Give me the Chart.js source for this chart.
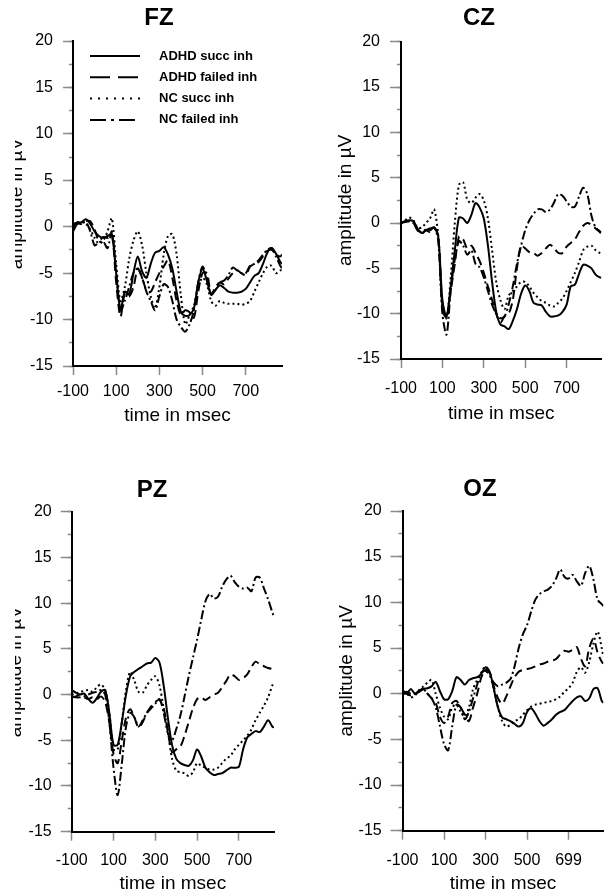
<!DOCTYPE html>
<html>
<head>
<meta charset="utf-8">
<script src="https://cdn.jsdelivr.net/npm/chart.js@4.4.1/dist/chart.umd.min.js"></script>
<style>
html,body{margin:0;padding:0;background:#fff;width:605px;height:893px;overflow:hidden;position:relative;}
.clipL{position:absolute;left:15px;top:0;width:290px;height:893px;overflow:hidden;}
canvas{position:absolute;}
</style>
</head>
<body>
<div class="clipL" id="clipL"></div>
<script>
// ---------- DATA ----------
const seriesNames = ['ADHD succ inh', 'ADHD failed inh', 'NC succ inh', 'NC failed inh'];
const times = [-100,-80,-60,-40,-20,0,20,40,60,80,
  100,120,140,160,180,200,220,240,260,280,
  300,320,340,360,380,400,420,440,460,480,
  500,520,540,560,580,600,620,640,660,680,
  700,720,740,760,780,800,820,840,860,868];
const xTickValues = [-100, 100, 300, 500, 700];
const xTickLabels = ['-100', '100', '300', '500', '700'];
const xTickLabelsOZ = ['-100', '100', '300', '500', '699'];
const yMin = -15, yMax = 20, yStep = 5, yMinorStep = 2.5;

const fzAdhdSucc = [-0.5,0.3,0.5,0.8,0.3,-0.5,-1.0,-1.2,-1.0,-0.8,
  -5,-9.0,-7.0,-7.3,-5,-3.2,-4.8,-5.5,-4,-2.8,
  -2.6,-2.2,-3,-4.5,-7,-9.2,-9.6,-9.5,-8.8,-6,
  -4.5,-5.8,-7.3,-6.8,-6.3,-6.6,-7,-7.1,-7.1,-7,
  -6.7,-6,-5.3,-5,-4,-2.8,-2.3,-2.9,-3.8,-4];
const fzAdhdFail = [0.3,0.4,0.3,0.6,0.6,-0.3,-1.5,-1.1,-1.2,-0.8,
  -6,-9.7,-7.2,-7.5,-6.5,-4.5,-5.5,-6.8,-7,-6,
  -5,-4.3,-3.6,-5.5,-8,-9.5,-9,-9.2,-9.8,-7,
  -5,-5,-7.3,-6.5,-6,-6.2,-5.6,-5,-4.7,-5,
  -5.2,-4.3,-4,-3.8,-3.2,-2.6,-2.5,-3,-3.2,-3];
const fzNcSucc = [0,0.3,0.5,0.3,-0.3,-1.2,-1.8,-1.5,-0.5,0.9,
  -4,-8,-6.5,-3.5,-1.5,-0.5,-2,-5,-7.5,-8.8,
  -6.5,-3,-1,-0.8,-3,-7.5,-10.5,-9.5,-8.5,-6.5,
  -5.5,-6.2,-8,-8.5,-8,-8.2,-8.3,-8.3,-8.3,-8.4,
  -8.3,-8,-7,-6,-5,-4.3,-4.2,-5,-4.7,-4.7];
const fzNcFail = [0,0.5,0.4,0.5,-0.5,-2,-1.7,-1.6,-2.3,-0.5,
  -5,-9,-8,-6.5,-5,-4.5,-5.5,-7,-8,-9,
  -7.5,-6.2,-6.5,-8,-10,-10.8,-11.3,-10.5,-9,-6,
  -4.3,-5.5,-7.3,-6.8,-6,-5.8,-5.2,-4.4,-4.7,-5,
  -5,-4.2,-4,-3.6,-3,-2.5,-2.3,-3.2,-4.2,-4.5];

const czAdhdSucc = [0,0.2,0.3,0.2,-0.6,-1.1,-0.8,-0.6,-0.5,-1.5,
  -8.5,-10.3,-7,-3,0.6,0.5,0,0.9,2.2,1.7,
  0.5,-2.5,-6.5,-9.8,-11.2,-11.4,-11.7,-10.8,-9.5,-7.8,
  -6.9,-7.5,-8.8,-9,-9.1,-9.8,-10.3,-10.3,-10.2,-9.8,
  -9,-7,-6.8,-5.6,-4.6,-4.7,-5,-5.7,-6,-6];
const czAdhdFail = [0,0.1,0.2,0,-0.8,-1.2,-0.8,-1,-0.5,-1.5,
  -9,-10.5,-7.5,-4.5,-1.5,-1.8,-2.8,-2.5,-3.3,-4.2,
  -5.5,-7,-8.5,-10,-11,-10.3,-10,-8.5,-5,-2.5,
  -2.8,-3.2,-3.3,-3.6,-3.3,-2.8,-2.4,-2.8,-3.3,-3.3,
  -2.6,-2.2,-1.8,-1,-0.3,0,-0.2,-0.6,-1.0,-1.2];
const czNcSucc = [0,0.3,0.6,0.3,-0.5,-0.5,0,0.5,1.5,-1.5,
  -9.5,-10.5,-6,0,4.2,4.5,2.6,2.2,2.8,3.2,
  2.5,0.5,-3,-6.5,-8.5,-9.5,-8,-7.5,-7,-6.5,
  -6.5,-7,-7.7,-8.2,-8.6,-8.8,-9.1,-9.2,-8.8,-8.3,
  -7.5,-6.5,-5.5,-4.3,-3,-2.6,-2.5,-3,-3.3,-3.4];
const czNcFail = [0,0.2,0.2,0,-0.8,-1,-0.7,-0.8,-0.5,-2,
  -10,-12.3,-7.5,-4,-2,-2.5,-3.5,-3,-4.5,-4.9,
  -6,-7.5,-9,-10,-10.5,-10.3,-9,-7,-4.5,-2.5,
  -0.8,0.3,1,1.5,1.5,1.2,1.5,2.3,3.2,3,
  2.4,1.8,1.8,2.9,3.9,3.2,0.8,-0.5,-0.9,-1.0];

const pzAdhdSucc = [0.5,0.2,0,0.1,-0.5,-0.9,-0.4,0.3,0.5,-2,
  -5.5,-5.5,-3,0,2,2.5,2.8,3.1,3.4,3.5,
  4,3.5,1,-2.5,-5.5,-7,-7.5,-7.7,-7.8,-7.2,
  -6,-6.8,-8,-8.5,-8.8,-8.7,-8.6,-8.3,-8,-8,
  -7.9,-6,-4.7,-4.3,-4,-4.1,-3.5,-2.8,-3.5,-3.6];
const pzAdhdFail = [-0.3,-0.2,0,-0.3,-0.5,-0.3,-0.5,-0.2,-0.8,-3,
  -6.5,-7.5,-5,-2.5,-1.6,-2.5,-3.6,-3,-2,-1.3,
  -0.8,-0.6,-1.5,-4,-6.3,-6,-5.7,-4.5,-3,-1.5,
  -0.5,-0.3,-0.6,-0.3,0,0.2,0.8,1.5,2.2,2,
  1.6,1.8,2.2,3,3.6,3.3,3.1,2.9,2.8,2.8];
const pzNcSucc = [0,0.1,0.3,0.4,0.5,0.3,0.8,1.1,0.5,-2,
  -6,-6,-3,0.5,2.5,1.5,0.3,0.2,1,1.6,
  2,1,-1.5,-4,-7,-8.3,-8.5,-8.6,-8.9,-8.5,
  -7.5,-7.8,-8,-8.2,-8.2,-8,-7.5,-7,-6.7,-6,
  -5.5,-5,-4.5,-3.8,-2.8,-2,-1.2,-0.3,1,1.3];
const pzNcFail = [-0.2,-0.3,-0.3,-0.2,0,0.2,0.3,0.5,0,-3,
  -8,-11,-7.5,-3.5,-2,-2.5,-3.5,-2.8,-2,-1.5,
  -1,-0.5,-2,-4.2,-5,-3.8,-2.3,-0.2,2,4,
  6,8.2,10.2,11,10.5,10.7,11.8,12.6,13,12.3,
  11.8,11.6,11.7,11.3,12.8,12.8,11.6,10.4,9,8.5];

const ozAdhdSucc = [0.4,0,0.5,0,0.2,0.5,0.6,0.8,1.3,0.3,
  -0.6,-0.6,0.3,1.8,1.5,1,1.5,1.7,1.8,2.2,
  2.9,2.4,0.5,-1.5,-2.6,-2.8,-3,-3.3,-3.6,-3.2,
  -2,-1.6,-2.2,-3,-3.5,-3.2,-2.8,-2.3,-2,-1.8,
  -1.3,-0.8,-0.4,-0.3,-0.8,-0.5,0.5,0.6,-0.8,-1];
const ozAdhdFail = [0,0.2,0,0,0.3,0.5,0,-0.5,-1,-2.5,
  -3.2,-2.5,-1,-0.8,-1.5,-2.3,-3,-1.5,0,1.8,
  2.6,2.3,0.8,-0.5,-1.1,-0.3,0.8,1.8,2.4,2.6,
  2.7,2.8,3,3.2,3.3,3.5,3.6,3.8,4.3,4.7,
  4.6,4.8,5.1,3.8,3,5,6,4.5,3.5,3.3];
const ozNcSucc = [0,0,-0.4,-0.2,0.4,0.8,1.2,1.5,0,-1.5,
  -2.5,-2.8,-1.5,-1.2,-2,-2.5,-1.5,0.5,1.5,2.3,
  3,2.2,0.5,-1.5,-3,-3.6,-3.4,-3,-2.8,-2.3,
  -1.8,-1.4,-1.2,-1.1,-1,-0.9,-0.8,-0.6,-0.3,0.2,
  0.6,1.2,2.4,2.9,2.3,3.5,5.5,6.8,5,4];
const ozNcFail = [0,0,-0.2,0,0.3,0.5,0,-0.5,-1.5,-3.5,
  -5.5,-6.2,-3.5,-1.2,-1.5,-2.8,-2,-0.5,1,2.3,
  2.5,2,1.2,0.8,1,1.2,1.6,3,5,6.5,
  7.5,9,10.3,10.9,11.2,11.4,11.8,12.6,13.6,12.8,
  12.6,13,12.3,11.8,13.2,14,12.5,10.3,9.8,9.6];

// ---------- STYLES ----------
const lineStyles = [
  { dash: [], legendDash: [] },
  { dash: [9, 5], legendDash: [20, 8] },
  { dash: [2, 3], legendDash: [2, 6] },
  { dash: [9, 3, 2, 3], legendDash: [16, 5, 3, 5] }
];

// panel geometry (canvas placement & layout)
const panels = [
  { name: 'FZ', series: [fzAdhdSucc, fzAdhdFail, fzNcSucc, fzNcFail], xLabels: xTickLabels,
    cx: 0, cy: 0, cw: 320, ch: 427, padR: 2, rW: 36, yW: 73, xH: 61,
    titleTop: 4, titleBottom: 8.2, xTickPad: 7, yTickLen: 10, yTickPad: 10, yTitlePad: 5.1, legend: true, left: true },
  { name: 'CZ', series: [czAdhdSucc, czAdhdFail, czNcSucc, czNcFail], xLabels: xTickLabels,
    cx: 300, cy: 0, cw: 360, ch: 425, padR: 2, rW: 56.6, yW: 101, xH: 66,
    titleTop: 4, titleBottom: 8.9, xTickPad: 11.4, yTickLen: 11, yTickPad: 10, yTitlePad: 34.1, legend: false, left: false },
  { name: 'PZ', series: [pzAdhdSucc, pzAdhdFail, pzNcSucc, pzNcFail], xLabels: xTickLabels,
    cx: 0, cy: 440, cw: 306, ch: 455, padR: 2, rW: 30, yW: 71.7, xH: 63.3,
    titleTop: 36.1, titleBottom: 6.8, xTickPad: 10.7, yTickLen: 11, yTickPad: 9, yTitlePad: 4.1, legend: false, left: true },
  { name: 'OZ', series: [ozAdhdSucc, ozAdhdFail, ozNcSucc, ozNcFail], xLabels: xTickLabelsOZ,
    cx: 300, cy: 440, cw: 362, ch: 455, padR: 2, rW: 56.6, yW: 102.5, xH: 64.3,
    titleTop: 35.1, titleBottom: 7.1, xTickPad: 11.2, yTickLen: 12, yTickPad: 8.8, yTitlePad: 35.1, legend: false, left: false }
];

Chart.defaults.font.family = '"Liberation Sans", Arial, Helvetica, sans-serif';
Chart.defaults.color = '#000';

const inlineLegend = {
  id: 'inlineLegend',
  afterDraw(chart, args, opts) {
    if (!opts.show) return;
    const { ctx, chartArea } = chart;
    ctx.save();
    chart.data.datasets.forEach((ds, i) => {
      const y = chartArea.top + opts.top + i * opts.rowGap;
      const x0 = chartArea.left + opts.left;
      ctx.setLineDash(ds.legendDash || []);
      ctx.lineWidth = ds.borderWidth;
      ctx.strokeStyle = ds.borderColor;
      ctx.beginPath();
      ctx.moveTo(x0, y);
      ctx.lineTo(x0 + opts.lineLen, y);
      ctx.stroke();
      ctx.setLineDash([]);
      ctx.font = 'bold 13px "Liberation Sans", Arial, sans-serif';
      ctx.fillStyle = '#000';
      ctx.textBaseline = 'middle';
      ctx.textAlign = 'left';
      ctx.fillText(ds.label, x0 + opts.lineLen + opts.gap, y);
    });
    ctx.restore();
  }
};

panels.forEach(p => {
  const canvas = document.createElement('canvas');
  canvas.width = p.cw; canvas.height = p.ch;
  canvas.style.width = p.cw + 'px'; canvas.style.height = p.ch + 'px';
  canvas.style.top = p.cy + 'px';
  if (p.left) {
    canvas.style.left = (p.cx - 15) + 'px';
    document.getElementById('clipL').appendChild(canvas);
  } else {
    canvas.style.left = p.cx + 'px';
    document.body.appendChild(canvas);
  }
  new Chart(canvas, {
    type: 'line',
    data: {
      datasets: p.series.map((vals, i) => ({
        label: seriesNames[i],
        data: times.map((t, k) => ({ x: t, y: vals[k] })),
        borderColor: '#000',
        borderWidth: 2,
        borderDash: lineStyles[i].dash,
        legendDash: lineStyles[i].legendDash,
        pointRadius: 0,
        tension: 0.3,
        fill: false
      }))
    },
    options: {
      responsive: false,
      animation: false,
      devicePixelRatio: 1,
      events: [],
      layout: { padding: { left: 0, right: p.padR, top: 0, bottom: 0 } },
      plugins: {
        legend: { display: false },
        tooltip: { enabled: false },
        title: { display: true, text: p.name, color: '#000',
          font: { size: 24, weight: 'bold' },
          padding: { top: p.titleTop, bottom: p.titleBottom } },
        inlineLegend: { show: p.legend, left: 17, top: 15, rowGap: 21.3, lineLen: 50, gap: 19 }
      },
      scales: {
        x: {
          type: 'linear', position: 'bottom', min: -100, max: 868,
          afterBuildTicks: s => { s.ticks = xTickValues.map(v => ({ value: v })); },
          afterFit: s => { s.height = p.xH; },
          ticks: { font: { size: 16 }, color: '#000', padding: p.xTickPad, maxRotation: 0, autoSkip: false,
            callback: v => p.xLabels[xTickValues.indexOf(v)] },
          grid: { drawOnChartArea: false, drawTicks: true, tickLength: 9, tickColor: '#8a8a8a', tickWidth: 1.5 },
          border: { display: true, color: '#000', width: 2 },
          title: { display: true, text: 'time in msec', color: '#000', font: { size: 19 }, padding: { top: 0, bottom: 0 } }
        },
        y: {
          type: 'linear', position: 'left', weight: 1, min: yMin, max: yMax,
          afterFit: s => { s.width = p.yW; },
          ticks: { stepSize: yStep, font: { size: 16 }, color: '#000', padding: p.yTickPad },
          grid: { drawOnChartArea: false, drawTicks: true, tickLength: p.yTickLen, tickColor: '#8a8a8a', tickWidth: 1.5 },
          border: { display: true, color: '#000', width: 2 },
          title: { display: true, text: 'amplitude in µV', color: '#000', font: { size: 19 }, padding: { top: p.yTitlePad, bottom: 0 } }
        },
        yMinor: {
          type: 'linear', axis: 'y', position: 'left', weight: 0, min: yMin, max: yMax,
          afterFit: s => { s.width = 0; },
          ticks: { display: false, stepSize: yMinorStep },
          grid: { drawOnChartArea: false, drawTicks: true, tickLength: 4, tickColor: '#8a8a8a', tickWidth: 1.5 },
          border: { display: false }
        },
        ySpacer: {
          type: 'linear', axis: 'y', position: 'right', min: yMin, max: yMax,
          afterFit: s => { s.width = p.rW; },
          ticks: { display: false },
          grid: { display: false, drawTicks: false },
          border: { display: false }
        }
      }
    },
    plugins: [inlineLegend]
  });
});
</script>
</body>
</html>
